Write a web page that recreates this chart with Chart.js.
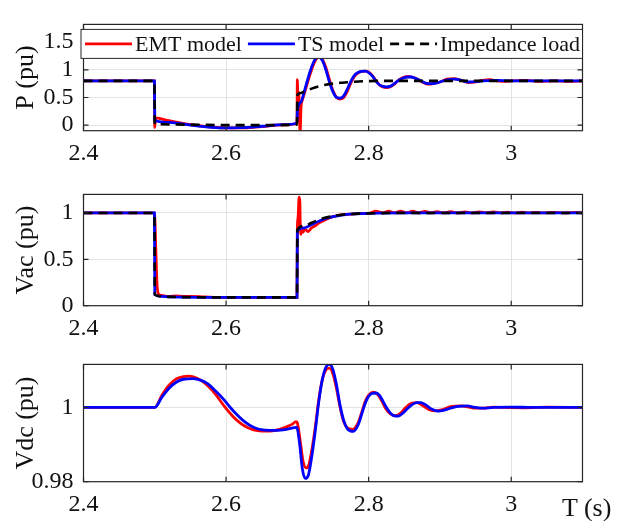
<!DOCTYPE html>
<html>
<head>
<meta charset="utf-8">
<script src="https://cdn.jsdelivr.net/npm/chart.js@4.4.0/dist/chart.umd.min.js"></script>
<style>
body{margin:0;background:#fff;}
#wrap{position:relative;width:618px;height:521px;background:#fff;}
.panel{position:absolute;left:0;width:618px;}
#tlabel{position:absolute;left:562px;top:494px;font:26px "Liberation Serif";line-height:28px;color:#111;}
</style>
</head>
<body>
<div id="wrap">
  <div class="panel" style="top:0;height:170px"><canvas id="cP" width="618" height="170"></canvas></div>
  <div class="panel" style="top:170px;height:170px"><canvas id="cVac" width="618" height="170"></canvas></div>
  <div class="panel" style="top:340px;height:181px"><canvas id="cVdc" width="618" height="181"></canvas></div>
  <div id="tlabel">T (s)</div>
</div>
<script>
// labels / ticks
const seriesNames = ['EMT model','TS model','Impedance load'];
const xTicks = [2.4, 2.6, 2.8, 3];
const pTicks = [0, 0.5, 1, 1.5];
const vacTicks = [0, 0.5, 1];
const vdcTicks = [0.98, 1];

// --- P (pu) ---
const pEmtT = [2.4,2.4995,2.5,2.501,2.52,2.55,2.58,2.6,2.62,2.65,2.68,2.6995,2.7,2.701,2.702,2.703,2.704,2.705,2.707,2.71,2.715,2.72,2.725,2.73,2.735,2.74,2.745,2.75,2.755,2.76,2.765,2.77,2.775,2.78,2.785,2.79,2.795,2.8,2.805,2.81,2.815,2.82,2.825,2.83,2.835,2.84,2.845,2.85,2.855,2.86,2.865,2.87,2.875,2.88,2.885,2.89,2.9,2.91,2.92,2.93,2.94,2.95,2.96,2.97,2.98,2.99,3.0,3.02,3.04,3.06,3.08,3.1];
const pEmt  = [0.8,0.8,-0.04,0.13,0.08,0.01,-0.035,-0.05,-0.05,-0.025,0.005,0.035,0.82,0.2,0.6,0.1,-0.12,0.3,0.45,0.58,0.8,1.0,1.16,1.23,1.19,1.04,0.82,0.62,0.5,0.47,0.5,0.61,0.76,0.88,0.94,0.97,0.975,0.96,0.9,0.81,0.73,0.69,0.68,0.69,0.73,0.79,0.84,0.87,0.88,0.87,0.85,0.82,0.78,0.75,0.74,0.75,0.78,0.83,0.84,0.81,0.77,0.78,0.81,0.82,0.8,0.79,0.8,0.81,0.79,0.8,0.79,0.8];
const pTsT = [2.4,2.4995,2.5,2.52,2.55,2.58,2.6,2.62,2.65,2.68,2.6995,2.7,2.705,2.71,2.715,2.72,2.725,2.73,2.735,2.74,2.745,2.75,2.755,2.76,2.765,2.77,2.775,2.78,2.785,2.79,2.795,2.8,2.805,2.81,2.815,2.82,2.825,2.83,2.835,2.84,2.845,2.85,2.855,2.86,2.865,2.87,2.875,2.88,2.885,2.89,2.9,2.91,2.92,2.93,2.94,2.95,2.96,2.98,3.0,3.05,3.1];
const pTs  = [0.8,0.8,0.09,0.05,0.0,-0.04,-0.05,-0.045,-0.02,0.01,0.04,0.25,0.42,0.62,0.85,1.05,1.19,1.23,1.17,1.0,0.78,0.6,0.5,0.49,0.53,0.65,0.79,0.9,0.95,0.97,0.975,0.95,0.89,0.8,0.73,0.7,0.69,0.7,0.74,0.79,0.83,0.86,0.87,0.87,0.85,0.82,0.79,0.76,0.75,0.75,0.78,0.82,0.83,0.81,0.78,0.785,0.8,0.81,0.8,0.8,0.8];
const pImpT = [2.4,2.4995,2.5,2.55,2.6,2.65,2.6995,2.7,2.705,2.71,2.72,2.73,2.74,2.75,2.76,2.77,2.78,2.8,2.82,3.1];
const pImp  = [0.8,0.8,0.02,0.01,0.0,0.0,0.01,0.55,0.58,0.61,0.66,0.7,0.73,0.75,0.765,0.775,0.785,0.795,0.8,0.8];

// --- Vac (pu) ---
const vacEmtT = [2.4,2.4995,2.5015,2.503,2.505,2.51,2.52,2.53,2.54,2.55,2.57,2.6,2.6995,2.7,2.701,2.7025,2.7035,2.704,2.705,2.706,2.708,2.71,2.715,2.72,2.725,2.73,2.74,2.75,2.76,2.77,2.78,2.79,2.8,2.81,2.82,2.828,2.836,2.845,2.853,2.862,2.87,2.879,2.887,2.896,2.905,2.915,2.925,2.935,2.945,2.955,2.965,2.975,2.985,2.995,3.005,3.015,3.025,3.035,3.045,3.06,3.075,3.09,3.1];
const vacEmt  = [1,1,0.6,0.25,0.13,0.11,0.1,0.105,0.1,0.1,0.095,0.09,0.09,0.82,0.95,1.17,1.12,0.9,0.77,0.85,0.79,0.83,0.8,0.84,0.86,0.89,0.93,0.96,0.98,0.985,0.99,0.995,0.995,1.02,1.0,1.02,1.0,1.02,1.0,1.02,1.0,1.018,1.0,1.015,1.0,1.014,1.0,1.012,1.0,1.01,1.0,1.01,1.0,1.008,1.0,1.008,1.0,1.007,1.0,1.006,1.0,1.006,1.0];
const vacTsT = [2.4,2.4995,2.5,2.51,2.52,2.6,2.6995,2.7,2.71,2.72,2.73,2.74,2.75,2.76,2.77,2.78,2.8,2.85,3.1];
const vacTs  = [1,1,0.12,0.1,0.095,0.09,0.09,0.81,0.84,0.875,0.91,0.94,0.96,0.975,0.985,0.99,0.995,1,1];
const vacImpT = [2.4,2.4995,2.5,2.51,2.52,2.6,2.6995,2.7,2.71,2.72,2.73,2.74,2.75,2.76,2.77,2.78,2.8,2.85,3.1];
const vacImp  = [1,1,0.12,0.1,0.095,0.09,0.09,0.82,0.86,0.895,0.925,0.95,0.965,0.977,0.985,0.99,0.995,1,1];

// --- Vdc (pu) ---
const vdcEmtT = [2.4,2.5,2.51,2.52,2.53,2.54,2.547,2.555,2.565,2.575,2.585,2.598,2.61,2.62,2.63,2.64,2.65,2.657,2.665,2.675,2.685,2.693,2.698,2.7,2.704,2.708,2.7125,2.716,2.72,2.725,2.73,2.735,2.74,2.745,2.75,2.755,2.76,2.765,2.77,2.777,2.785,2.79,2.795,2.8,2.806,2.812,2.818,2.823,2.83,2.838,2.845,2.852,2.86,2.868,2.876,2.885,2.895,2.905,2.915,2.93,2.945,2.96,2.975,2.99,3.02,3.05,3.1];
const vdcEmt  = [1,1,1.0033,1.006,1.0077,1.0083,1.00842,1.0082,1.0073,1.0057,1.0036,1.0002,0.9975,0.9958,0.9946,0.9939,0.99365,0.99362,0.9937,0.9941,0.9948,0.9955,0.9962,0.9958,0.991,0.9855,0.9837,0.9845,0.9882,0.9945,1.002,1.0075,1.0101,1.0106,1.009,1.005,1.0,0.9962,0.9945,0.9941,0.9958,0.9985,1.0015,1.0033,1.0041,1.0036,1.0019,1.0,0.9983,0.99775,0.9985,1.0,1.0011,1.0013,1.0005,0.9994,0.9991,0.9995,1.0002,1.0004,0.9999,0.9998,1.0001,1.0,0.9999,1.0001,1.0];
const vdcTsT = [2.4,2.5,2.51,2.52,2.53,2.54,2.554,2.565,2.575,2.585,2.595,2.605,2.615,2.625,2.635,2.645,2.655,2.67,2.685,2.699,2.703,2.707,2.711,2.715,2.72,2.725,2.73,2.735,2.74,2.745,2.75,2.755,2.76,2.765,2.77,2.7787,2.785,2.79,2.795,2.8,2.805,2.8105,2.815,2.82,2.825,2.83,2.835,2.8418,2.848,2.855,2.862,2.868,2.873,2.88,2.888,2.898,2.905,2.915,2.925,2.938,2.95,2.96,2.975,3.0,3.03,3.1];
const vdcTs  = [1,1,1.0028,1.0052,1.0068,1.0076,1.00775,1.0073,1.0063,1.0045,1.0025,1.0002,0.9981,0.9963,0.995,0.9942,0.9939,0.9938,0.9941,0.99465,0.9905,0.9835,0.9809,0.9815,0.9865,0.9935,1.0015,1.0075,1.0108,1.0116,1.0102,1.006,1.0005,0.9965,0.9943,0.99354,0.9952,0.998,1.001,1.003,1.0038,1.0039,1.0033,1.0017,1.0,0.9986,0.9978,0.99767,0.9985,0.9998,1.0009,1.0013,1.00129,1.0007,0.9996,0.999,0.9992,0.9998,1.0003,1.0004,1.0,0.9998,1.0,1.0001,1.0,1.0];

const FONT = '"Liberation Serif", "Times New Roman", serif';
const TXT = '#111';

function pts(t, v){ return t.map((x,i)=>({x:x, y:v[i]})); }

function makeSets(emtT, emt, tsT, ts, impT, imp){
  const sets = [
    {label:seriesNames[0], data:pts(emtT,emt), borderColor:'#ff0000', borderWidth:2.8, order:3},
    {label:seriesNames[1], data:pts(tsT,ts), borderColor:'#0000ff', borderWidth:2.8, order:2}
  ];
  if(impT) sets.push({label:seriesNames[2], data:pts(impT,imp), borderColor:'#000000', borderWidth:2.6, borderDash:[9,6], order:1});
  return sets;
}

// box + inward ticks like matlab
const framePlugin = {
  id:'frame',
  afterDatasetsDraw(chart){
    const {ctx, chartArea:a} = chart;
    const x = chart.scales.x, y = chart.scales.y;
    ctx.save();
    ctx.strokeStyle = '#262626'; ctx.lineWidth = 1.2;
    ctx.strokeRect(a.left, a.top, a.right-a.left, a.bottom-a.top);
    ctx.beginPath();
    x.ticks.forEach(t=>{ const px=x.getPixelForValue(t.value);
      ctx.moveTo(px,a.bottom); ctx.lineTo(px,a.bottom-5); ctx.moveTo(px,a.top); ctx.lineTo(px,a.top+5); });
    y.ticks.forEach(t=>{ const py=y.getPixelForValue(t.value);
      ctx.moveTo(a.left,py); ctx.lineTo(a.left+5,py); ctx.moveTo(a.right,py); ctx.lineTo(a.right-5,py); });
    ctx.stroke();
    ctx.restore();
  }
};

// boxed legend inside the top of the first axes
const legendPlugin = {
  id:'boxLegend',
  afterDraw(chart){
    const {ctx, chartArea:a} = chart;
    const sets = [0,1,2].map(i=>chart.data.datasets.find(d=>d.label===seriesNames[i]));
    const top = a.top+5, bot = a.top+34, left = a.left-2.5, right = a.right;
    ctx.save();
    ctx.fillStyle = '#fff'; ctx.fillRect(left, top, right-left, bot-top);
    ctx.strokeStyle = '#262626'; ctx.lineWidth = 1; ctx.strokeRect(left, top, right-left, bot-top);
    ctx.font = '22px ' + FONT;
    ctx.textBaseline = 'middle';
    const cy = (top+bot)/2;
    let cx = left + 4;
    sets.forEach(d=>{
      ctx.strokeStyle = d.borderColor; ctx.lineWidth = d.borderWidth;
      ctx.setLineDash(d.borderDash || []);
      ctx.beginPath(); ctx.moveTo(cx, cy); ctx.lineTo(cx+47, cy); ctx.stroke();
      ctx.setLineDash([]);
      cx += 50;
      ctx.fillStyle = TXT; ctx.fillText(d.label, cx, cy+1);
      cx += ctx.measureText(d.label).width + 6;
    });
    ctx.restore();
  }
};

function makeChart(id, datasets, yMin, yMax, yTicks, yTitle, padTop, xH, withLegend){
  return new Chart(document.getElementById(id), {
    type:'line',
    data:{datasets:datasets},
    options:{
      responsive:false, animation:false,
      elements:{point:{radius:0}, line:{cubicInterpolationMode:'monotone', fill:false}},
      layout:{padding:{top:padTop, right:35.5, bottom:0, left:0}},
      plugins:{legend:{display:false}, tooltip:{enabled:false}},
      scales:{
        x:{type:'linear', min:2.4, max:3.1,
           afterBuildTicks(s){ s.ticks = xTicks.map(v=>({value:v})); },
           afterFit(s){ s.height = xH; },
           ticks:{callback:v=>String(v), color:TXT, font:{family:FONT, size:24}, padding:9, maxRotation:0, autoSkip:false},
           grid:{color:'#e3e3e3', lineWidth:1, drawTicks:false}, border:{display:false}},
        y:{type:'linear', min:yMin, max:yMax,
           afterBuildTicks(s){ s.ticks = yTicks.map(v=>({value:v})); },
           afterFit(s){ s.width = 83.5; },
           ticks:{callback:v=>String(v), color:TXT, font:{family:FONT, size:24}, padding:10, autoSkip:false},
           title:{display:true, text:yTitle, color:TXT, font:{family:FONT, size:26}, padding:{top:11, bottom:0}},
           grid:{color:'#e3e3e3', lineWidth:1, drawTicks:false}, border:{display:false}}
      }
    },
    plugins: withLegend ? [framePlugin, legendPlugin] : [framePlugin]
  });
}

makeChart('cP', makeSets(pEmtT,pEmt,pTsT,pTs,pImpT,pImp), -0.1, 1.82, pTicks, 'P (pu)', 7.3, 39.3, true);
makeChart('cVac', makeSets(vacEmtT,vacEmt,vacTsT,vacTs,vacImpT,vacImp), 0, 1.2, vacTicks, 'Vac (pu)', 13.3, 34.3, false);
makeChart('cVdc', makeSets(vdcEmtT,vdcEmt,vdcTsT,vdcTs), 0.98, 1.0116, vdcTicks, 'Vdc (pu)', 19.3, 39.3, false);
</script>
</body>
</html>
